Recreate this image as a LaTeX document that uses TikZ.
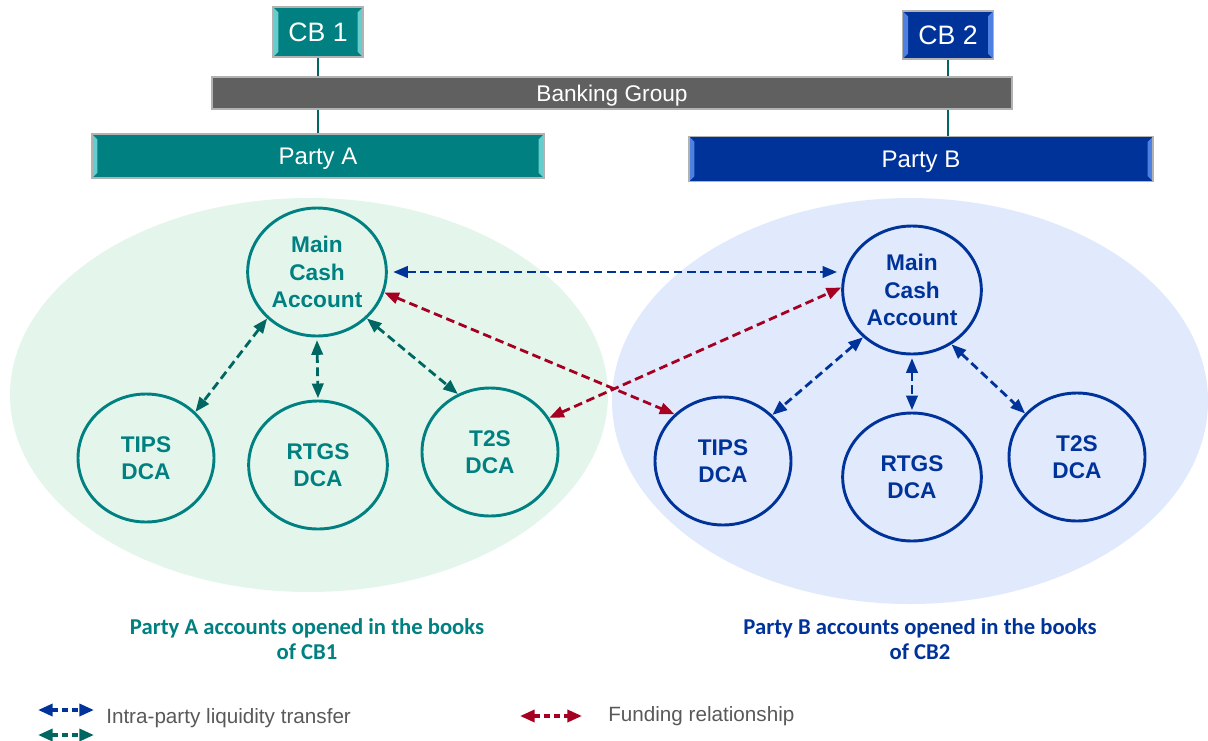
\documentclass[tikz,border=0pt]{standalone}
\usepackage{fontspec}
\setmainfont{Liberation Sans}
\newfontfamily\calibri{Carlito}
\usetikzlibrary{shapes.geometric, arrows.meta}
\definecolor{tealA}{HTML}{008080}
\definecolor{tealL}{HTML}{66CCCC}
\definecolor{tealD}{HTML}{006661}
\definecolor{blueB}{HTML}{003399}
\definecolor{blueL}{HTML}{4D80E0}
\definecolor{greyG}{HTML}{606060}
\definecolor{redF}{HTML}{A50021}
\definecolor{bgA}{HTML}{E4F6EC}
\definecolor{bgB}{HTML}{E0EAFC}
\tikzset{
bevel/.style={path picture={
  \fill[#1] (path picture bounding box.north west) -- ([shift={(4pt,-4pt)}]path picture bounding box.north west)
    -- ([shift={(4pt,4pt)}]path picture bounding box.south west) -- (path picture bounding box.south west) -- cycle;
  \fill[#1] (path picture bounding box.north east) -- ([shift={(-4pt,-4pt)}]path picture bounding box.north east)
    -- ([shift={(-4pt,4pt)}]path picture bounding box.south east) -- (path picture bounding box.south east) -- cycle;
}},
cbbox/.style={draw=black!30, line width=1pt, text=white, inner sep=0pt, text height=14.4pt, text depth=0pt,
  font=\fontsize{20}{24}\selectfont},
barbox/.style={draw=black!30, line width=1pt, text=white, inner sep=0pt, text height=13pt, text depth=0pt,
  font=\fontsize{18}{22}\selectfont},
account/.style={ellipse, line width=2.2pt, minimum width=104pt, minimum height=96pt, inner sep=0pt,
  align=center, font=\fontsize{17}{20.5}\selectfont\bfseries},
accA/.style={account, draw=tealA, text=tealA},
accB/.style={account, draw=blueB, text=blueB},
link/.style={line width=2pt, tealD},
flow/.style={line width=2.1pt, dash pattern=on 6.5pt off 3.5pt, {Triangle[length=11pt,width=8.5pt]}-{Triangle[length=11pt,width=8.5pt]}},
legflow/.style={line width=2.6pt, dash pattern=on 4.5pt off 3pt, {Triangle[length=11pt,width=9pt]}-{Triangle[length=11pt,width=9pt]}},
caption/.style={align=center, font=\calibri\fontsize{17}{19}\selectfont\bfseries},
legtext/.style={anchor=west, text=black!65, inner sep=0pt, font=\fontsize{15.5}{18}\selectfont},
}

\begin{document}
\begin{tikzpicture}[x=0.75pt, y=-0.75pt]
            \useasboundingbox (0,0) rectangle (1208,740);
            \fill[bgA] (309,395) ellipse [x radius=224.25pt, y radius=147.75pt];
            \fill[bgB] (910,401) ellipse [x radius=223.5pt, y radius=152.25pt];

            \node[cbbox, fill=tealA, bevel=tealL, minimum width=67.5pt, minimum height=37.5pt] (cb1) at (318,32) {CB 1};
            \node[cbbox, fill=blueB, bevel=blueL, minimum width=68pt, minimum height=36pt] (cb2) at (948,35) {CB 2};
            \node[barbox, fill=greyG, minimum width=600pt, minimum height=24pt, text height=12.2pt,
              font=\fontsize{17}{20}\selectfont] (group) at (612,93) {Banking Group};
            \node[barbox, fill=tealA, bevel=tealL, minimum width=339pt, minimum height=33pt] (partyA) at (318,156) {Party A};
            \node[barbox, fill=blueB, bevel=blueL, minimum width=348pt, minimum height=33.75pt] (partyB) at (921,159) {Party B};
            \draw[link] (cb1.south) -- (cb1.south |- group.north);
            \draw[link] (group.south -| cb1.south) -- (cb1.south |- partyA.north);
            \draw[link] (cb2.south) -- (cb2.south |- group.north);
            \draw[link] (group.south -| cb2.south) -- (cb2.south |- partyB.north);

            \node[accA] (mainA) at (317,272) {Main\\Cash\\Account};
            \node[accA, minimum width=102pt] (tipsA) at (146,458) {TIPS\\DCA};
            \node[accA] (rtgsA) at (318,465) {RTGS\\DCA};
            \node[accA, minimum width=102pt] (t2sA) at (490,452) {T2S\\DCA};
            \node[accB] (mainB) at (912,290) {Main\\Cash\\Account};
            \node[accB, minimum width=102pt] (tipsB) at (723,461) {TIPS\\DCA};
            \node[accB] (rtgsB) at (912,477) {RTGS\\DCA};
            \node[accB, minimum width=102pt] (t2sB) at (1077,457) {T2S\\DCA};

            \draw[flow, tealD] (mainA.-137) -- (tipsA.43);
            \draw[flow, tealD] ([yshift=-2pt]mainA.south) -- ([yshift=1pt]rtgsA.north);
            \draw[flow, tealD] (mainA.-43) -- (t2sA.119);
            \draw[flow, blueB] (mainB.-136) -- (tipsB.43);
            \draw[flow, blueB] ([yshift=-2pt]mainB.south) -- ([yshift=1pt]rtgsB.north);
            \draw[flow, blueB] (mainB.-54) -- (t2sB.140);
            \draw[flow, blueB] ([xshift=4pt]mainA.east) -- ([xshift=-3pt]mainA.east -| mainB.west);
            \draw[flow, redF] (mainA.-17) -- (tipsB.136);
            \draw[flow, redF] (t2sA.30) -- (mainB.178);

            \node[caption, text=tealA] (capA) at (307,639) {Party A accounts opened in the books\\of CB1};
            \node[caption, text=blueB] (capB) at (920,639) {Party B accounts opened in the books\\of CB2};

            \coordinate (lb1) at (38,710);
            \coordinate (lb2) at (94,710);
            \coordinate (lg1) at (38,735);
            \coordinate (lg2) at (94,735);
            \coordinate (lr1) at (520,716);
            \coordinate (lr2) at (582,716);
            \draw[legflow, blueB] (lb1) -- (lb2);
            \draw[legflow, tealD] (lg1) -- (lg2);
            \draw[legflow, redF] (lr1) -- (lr2);
            \node[legtext] (legIntra) at (106,718) {Intra-party liquidity transfer};
            \node[legtext] (legFund) at (608,716) {Funding relationship};
        \end{tikzpicture}
\end{document}
